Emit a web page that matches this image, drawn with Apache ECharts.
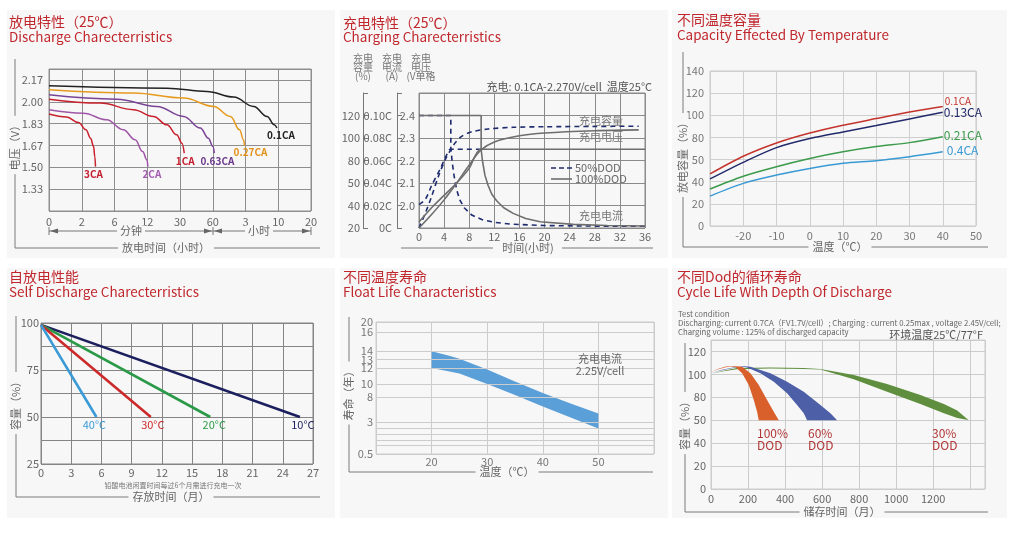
<!DOCTYPE html>
<html><head><meta charset="utf-8">
<script src="https://cdn.jsdelivr.net/npm/echarts@6/dist/echarts.min.js"></script>
<style>
html,body{margin:0;padding:0;background:#fff;}
#wrap{position:relative;width:1020px;height:549px;}
.bg{position:absolute;background:#f7f7f7;}
#c{position:absolute;left:0;top:0;width:1020px;height:549px;}
</style>
</head><body>
<div id="wrap">
<div class="bg" style="left:7px;top:10px;width:328px;height:248px"></div>
<div class="bg" style="left:340px;top:10px;width:328px;height:248px"></div>
<div class="bg" style="left:672px;top:10px;width:335px;height:248px"></div>
<div class="bg" style="left:7px;top:268px;width:328px;height:250px"></div>
<div class="bg" style="left:340px;top:268px;width:328px;height:250px"></div>
<div class="bg" style="left:672px;top:268px;width:335px;height:250px"></div>
<div id="c"></div>
</div>
<script>
const FF = '"Noto Sans CJK SC","Noto Sans",sans-serif';
const RED = '#c0272d';
const BG = '#f7f7f7';

// ---------- Panel 1: discharge ----------
const dischargeTickLabels = ['0','2','6','12','30','60','3','10','20'];
const dischargeVoltLabels = ['1.33','1.50','1.67','1.83','2.00','2.17'];
const dis3CA  = [[0,1.906],[0.54,1.883],[0.9,1.842],[1.13,1.786],[1.27,1.722],[1.36,1.66],[1.4,1.58],[1.42,1.505]];
const dis2CA  = [[0,1.939],[1.05,1.913],[1.76,1.862],[2.27,1.786],[2.63,1.71],[2.86,1.62],[2.99,1.557],[3.02,1.505]];
const dis1CA  = [[0,2.02],[1.56,1.99],[2.58,1.94],[3.19,1.888],[3.6,1.824],[3.9,1.748],[4.06,1.684],[4.13,1.608]];
const dis063CA= [[0,2.053],[2.07,2.02],[3.29,1.964],[4.11,1.888],[4.62,1.8],[4.87,1.722],[5.0,1.66],[5.05,1.608]];
const dis027CA= [[0,2.091],[2.58,2.066],[4.11,2.028],[5.03,1.964],[5.54,1.888],[5.82,1.786],[5.94,1.71],[5.97,1.666]];
const dis01CA = [[0,2.122],[3.6,2.104],[4.82,2.079],[5.64,2.036],[6.25,1.964],[6.66,1.888],[6.88,1.824],[6.96,1.8]];

// ---------- Panel 2: charging ----------
const chgCapLabels  = ['20','40','50','80','100','120'];
const chgCurrLabels = ['0C','0.02C','0.04C','0.06C','0.08C','0.10C'];
const chgVoltLabels = ['2.0','2.1','2.2','2.3','2.4'];
const volt50  = [[0,2.004],[1,2.027],[2,2.088],[3.4,2.164],[4.4,2.225],[5,2.25],[9.9,2.25]];
const cap50   = [[0,20],[1,33],[2,48],[3.1,66],[4.2,81],[5,89],[5.8,96],[6.8,101.5],[8.4,105.5],[11,108],[15,109.5],[20,110],[28,110.3],[35,110.5]];
const curr50  = [[0,0.1],[5.07,0.1],[5.07,0.071],[5.3,0.058],[5.6,0.046],[6,0.034],[6.5,0.025],[7.2,0.018],[8.4,0.0115],[10,0.0075],[12,0.005],[15,0.0033],[20,0.0022],[28,0.0017],[36,0.0015]];
const volt100 = [[0,1.927],[2,1.99],[4,2.045],[6,2.1],[8,2.165],[9.8,2.25],[36,2.25]];
const cap100  = [[0,20],[2,32],[4,45],[6,60],[8,76],[9.8,89],[12,96.5],[16,102],[20,104.5],[28,106.5],[35,107.2]];
const curr100 = [[0,0.1],[9.9,0.1],[9.9,0.07],[10.1,0.06],[10.5,0.047],[11,0.038],[11.6,0.03],[12.4,0.024],[13.5,0.018],[15,0.013],[17,0.0085],[19.3,0.0055],[24.6,0.0032],[30,0.0022],[36,0.0018]];

// ---------- Panel 3: capacity vs temperature ----------
const tempCapLabels = ['0','20','40','50','80','100','120','140'];
const tempX   = [-30,-20,-10,0,10,20,30,40];
const cap01CA = [47,63,75,84,91,97,103,108];
const cap013CA= [42.5,57.5,70.8,79,85,90.7,96.7,102.7];
const cap021CA= [33.4,45,53.6,61,67,71.7,75.3,80.7];
const cap04CA = [27,38.5,46,52,56.6,59,62.6,67];

// ---------- Panel 4: self discharge ----------
const sd40 = [[0,99],[5.5,50]];
const sd30 = [[0,99],[10.9,50]];
const sd20 = [[0,99],[16.8,50]];
const sd10 = [[0,99],[25.7,50]];

// ---------- Panel 5: float life ----------
const floatTicks    = [0.5,3,8,10,12,13,14,16,20];
const floatTickPos  = [0,32,57,70,86,94.3,102.7,122,132];
const floatExtraPos = [26,20,14,9];
const floatTemp  = [20,23,25,30,35,40,45,50];
const floatUpper = [14,13.5,13.1,11.8,10.3,8.6,6.7,4.7];
const floatLower = [12,11.6,11.3,10,8.3,6.1,3.9,2.5];

// ---------- Panel 6: cycle life ----------
const cycCapLabels = {0:'0',20:'20',40:'40',60:'50',80:'80',100:'100',120:'120'};
const dod100Outer = [[0,102],[40,105],[80,106.8],[120,107.3],[168,106.7],[213,100.9],[258,90.7],[303,77.7],[339,67.5],[366,60]];
const dod100Inner = [[0,102],[40,104.5],[80,106.3],[110,106.8],[132,106.5],[168,100.9],[204,90.7],[231,77.7],[249,67.5],[258,60]];
const dod60Outer  = [[0,101],[60,104],[120,106],[180,107],[213,106.7],[321,100.9],[411,93.6],[501,84.9],[591,73.3],[645,66.1],[681,60]];
const dod60Inner  = [[0,101],[60,103.6],[120,105.5],[180,106.4],[195,106.1],[267,100.9],[339,93.6],[411,83.5],[465,73.3],[501,66.1],[519,60]];
const dod30Outer  = [[0,100.5],[60,103],[140,105.5],[320,106],[500,105.5],[591,104.7],[771,99.4],[951,91.6],[1131,82],[1258,74.2],[1330,68.4],[1389,60.5]];
const dod30Inner  = [[0,100.5],[60,102.5],[140,104.5],[320,105.2],[500,104.8],[591,104.2],[771,95.7],[951,84.9],[1131,74.2],[1258,66.1],[1330,62],[1389,60.3]];

// ---------- helpers ----------
function floatMap(v){
  for(let i=0;i<floatTicks.length-1;i++){
    if(v<=floatTicks[i+1]){
      const t=(v-floatTicks[i])/(floatTicks[i+1]-floatTicks[i]);
      return floatTickPos[i]+t*(floatTickPos[i+1]-floatTickPos[i]);
    }
  }
  return floatTickPos[floatTickPos.length-1];
}
const lbl = (extra)=>Object.assign({color:'#666',fontSize:11,fontFamily:FF},extra||{});
function lineS(xi, yi, name, data, color, width, extra){
  return Object.assign({type:'line', name, xAxisIndex:xi, yAxisIndex:yi, data, symbol:'none', showSymbol:false,
    silent:true, animation:false, lineStyle:{color, width}, itemStyle:{color}}, extra||{});
}
function endLbl(name,color,offset,align,vAlign,size,bold){
  return {show:true, formatter:name, color, fontSize:size||11, fontFamily:FF, fontWeight:bold?'bold':'normal',
    align:align, verticalAlign:vAlign, distance:0, offset};
}
function bandSeries(xi, yi, upper, lower, color, mapY){
  const m = mapY || (v=>v);
  return {type:'custom', xAxisIndex:xi, yAxisIndex:yi, silent:true, z:3, animation:false, data:[[0,0]],
    renderItem:(params, api)=>{
      const pts = upper.map(p=>api.coord([p[0], m(p[1])]))
        .concat(lower.slice().reverse().map(p=>api.coord([p[0], m(p[1])])));
      return {type:'polygon', shape:{points:pts}, style:{fill:color}};
    }};
}
function txt(x,y,text,o){
  o=o||{};
  const el={type:'text', x, y, silent:true, z:50, rotation:o.rot||0,
    style:{text, fill:o.color||'#666', fontSize:o.size||11, fontFamily:FF, fontWeight:o.weight||'normal',
      align:o.align||'left', verticalAlign:'middle', textAlign:o.align||'left', textVerticalAlign:'middle'}};
  if(o.bg){ el.style.backgroundColor=o.bg; el.style.padding=o.pad||[0,4]; }
  return el;
}
function ln(x1,y1,x2,y2,color,w,dash){
  return {type:'line', silent:true, z:40, shape:{x1,y1,x2,y2}, style:{stroke:color||'#777', lineWidth:w||1, lineDash:dash||null}};
}
function tri(points,color){ return {type:'polygon', silent:true, z:41, shape:{points}, style:{fill:color||'#666'}}; }

// ---------- grids ----------
const grids = [
  {left:49, top:69, width:262, height:142, show:true, borderColor:'#8e8e8e', borderWidth:1},
  {left:419, top:93, width:226, height:135, show:true, borderColor:'#8a8a8a', borderWidth:1},
  {left:710, top:71, width:266, height:155, show:true, borderColor:'#c8c8c8', borderWidth:1},
  {left:41, top:323, width:272, height:141, show:true, borderColor:'#858585', borderWidth:1},
  {left:376, top:322, width:278, height:132, show:true, borderColor:'#cccccc', borderWidth:1},
  {left:711, top:340, width:274, height:149, show:true, borderColor:'#cccccc', borderWidth:1}
];
const noLine={show:false}, noTick={show:false};
const xAxes = [
  {gridIndex:0, type:'value', min:0, max:8, interval:1, axisLine:noLine, axisTick:noTick,
   splitLine:{lineStyle:{color:'#8e8e8e'}}, axisLabel:lbl({margin:5, formatter:v=>dischargeTickLabels[Math.round(v)]||''})},
  {gridIndex:1, type:'value', min:0, max:36, interval:4, axisLine:noLine, axisTick:noTick,
   splitLine:{lineStyle:{color:'#8a8a8a'}}, axisLabel:lbl({margin:3})},
  {gridIndex:2, type:'value', min:-30, max:50, interval:10, axisLine:noLine, axisTick:noTick,
   splitLine:{lineStyle:{color:'#cfcfcf'}}, axisLabel:lbl({margin:4, color:'#777', formatter:v=>v===-30?'':String(v)})},
  {gridIndex:3, type:'value', min:0, max:27, interval:3, axisLine:noLine, axisTick:noTick,
   splitLine:{lineStyle:{color:'#858585'}}, axisLabel:lbl({margin:3})},
  {gridIndex:4, type:'value', min:10, max:60, interval:10, axisLine:noLine, axisTick:noTick,
   splitLine:{lineStyle:{color:'#cccccc'}}, axisLabel:lbl({margin:2, color:'#777', formatter:v=>(v>10&&v<60)?String(v):''})},
  {gridIndex:5, type:'value', min:0, max:1480, interval:200, axisLine:noLine, axisTick:noTick,
   splitLine:{lineStyle:{color:'#cccccc'}}, axisLabel:lbl({margin:4, formatter:v=>v<=1200?String(v):''})}
];
const yAxes = [
  {gridIndex:0, type:'value', min:7/6, max:2.25, interval:1/6, axisLine:noLine, axisTick:noTick,
   splitLine:{lineStyle:{color:'#8e8e8e'}},
   axisLabel:lbl({margin:6, formatter:v=>{const i=Math.round((v-7/6)*6); return (Math.abs(v-(7/6+i/6))<1e-6&&i>=1&&i<=6)?dischargeVoltLabels[i-1]:'';}})},
  {gridIndex:1, type:'value', min:1.9, max:2.5, interval:0.1, axisLine:noLine, axisTick:noTick,
   splitLine:{lineStyle:{color:'#8a8a8a'}},
   axisLabel:lbl({margin:4, formatter:v=>{const i=Math.round((v-1.9)*10); return (i>=1&&i<=5)?chgVoltLabels[i-1]:'';}})},
  {gridIndex:1, type:'value', min:0, max:0.12, interval:0.02, offset:22, position:'left',
   axisLine:{show:true, lineStyle:{color:'#777'}}, axisTick:{show:true, inside:true, length:5, lineStyle:{color:'#777'}},
   splitLine:{show:false},
   axisLabel:lbl({margin:5, formatter:v=>{const i=Math.round(v/0.02); return (i>=0&&i<=5)?chgCurrLabels[i]:'';}})},
  {gridIndex:1, type:'value', min:20, max:140, interval:20, offset:56, position:'left',
   axisLine:{show:true, lineStyle:{color:'#777'}}, axisTick:{show:true, inside:true, length:5, lineStyle:{color:'#777'}},
   splitLine:{show:false},
   axisLabel:lbl({margin:3, formatter:v=>{const i=Math.round((v-20)/20); return (i>=0&&i<=5)?chgCapLabels[i]:'';}})},
  {gridIndex:2, type:'value', min:0, max:140, interval:20, axisLine:noLine, axisTick:noTick,
   splitLine:{lineStyle:{color:'#cfcfcf'}}, axisLabel:lbl({margin:6, color:'#777', formatter:v=>tempCapLabels[Math.round(v/20)]||''})},
  {gridIndex:3, type:'value', min:25, max:100, interval:12.5, axisLine:noLine, axisTick:noTick,
   splitLine:{lineStyle:{color:'#858585'}}, axisLabel:lbl({margin:2, formatter:v=>(v%25===0)?String(v):''})},
  {gridIndex:4, type:'value', min:0, max:132, axisLine:noLine, axisTick:noTick, splitLine:{show:false},
   axisLabel:{show:false}},
  {gridIndex:5, type:'value', min:0, max:130, interval:20, axisLine:noLine, axisTick:noTick,
   splitLine:{lineStyle:{color:'#cccccc'}}, axisLabel:lbl({margin:5, formatter:v=>cycCapLabels[v]!==undefined?cycCapLabels[v]:''})}
];

// panel 5 gridlines with tick labels (non-uniform scale)
const floatLines = floatTickPos.map((p,i)=>({yAxis:p, label:{show:true, position:'start', distance:3,
    formatter:String(floatTicks[i]), color:'#777', fontSize:11, fontFamily:FF}}))
  .concat(floatExtraPos.map(p=>({yAxis:p, label:{show:false}})));

// ---------- series ----------
const NAVY='#1f2d6e', GRAY='#6e6e6e';
const series = [
  // panel 1
  lineS(0,0,'3CA',dis3CA,'#c8202c',1.5,{smooth:0.4,smoothMonotone:'x',endLabel:endLbl('3CA','#c42030',[-2,3],'center','top',10,true)}),
  lineS(0,0,'2CA',dis2CA,'#a056a8',1.5,{smooth:0.4,smoothMonotone:'x',endLabel:endLbl('2CA','#a35bb0',[4,3],'center','top',10,true)}),
  lineS(0,0,'1CA',dis1CA,'#c8202c',1.5,{smooth:0.4,smoothMonotone:'x',endLabel:endLbl('1CA','#c42030',[1,3],'center','top',10,true)}),
  lineS(0,0,'0.63CA',dis063CA,'#7a4496',1.5,{smooth:0.4,smoothMonotone:'x',endLabel:endLbl('0.63CA','#6c3a8c',[3,3],'center','top',10,true)}),
  lineS(0,0,'0.27CA',dis027CA,'#e69a1e',1.5,{smooth:0.4,smoothMonotone:'x',endLabel:endLbl('0.27CA','#e0921a',[6,2],'center','top',10,true)}),
  lineS(0,0,'0.1CA',dis01CA,'#222222',1.5,{smooth:0.4,smoothMonotone:'x',endLabel:endLbl('0.1CA','#222',[4,2],'center','top',10,true)}),
  // panel 2
  lineS(1,1,'50%DOD',volt50,NAVY,1.6,{smooth:0.3,lineStyle:{color:NAVY,width:1.6,type:[5,4]}}),
  lineS(1,3,'50%DOD',cap50,NAVY,1.6,{smooth:0.3,lineStyle:{color:NAVY,width:1.6,type:[5,4]}}),
  lineS(1,2,'50%DOD',curr50,NAVY,1.6,{lineStyle:{color:NAVY,width:1.6,type:[5,4]}}),
  lineS(1,1,'100%DOD',volt100,GRAY,1.6,{smooth:0.2}),
  lineS(1,3,'100%DOD',cap100,GRAY,1.6,{smooth:0.3}),
  lineS(1,2,'100%DOD',curr100,GRAY,1.6,{}),
  // panel 3
  lineS(2,4,'0.1CA',tempX.map((t,i)=>[t,cap01CA[i]]),'#c4342c',1.5,{smooth:0.3,endLabel:endLbl('0.1CA','#c4342c',[2,-5],'left','middle',10)}),
  lineS(2,4,'0.13CA',tempX.map((t,i)=>[t,cap013CA[i]]),'#232a6b',1.5,{smooth:0.3,endLabel:endLbl('0.13CA','#232a6b',[1,0],'left','middle',12)}),
  lineS(2,4,'0.21CA',tempX.map((t,i)=>[t,cap021CA[i]]),'#3c9b4c',1.5,{smooth:0.3,endLabel:endLbl('0.21CA','#3c9b4c',[1,-1],'left','middle',12)}),
  lineS(2,4,'0.4CA',tempX.map((t,i)=>[t,cap04CA[i]]),'#3a9ad4',1.5,{smooth:0.3,endLabel:endLbl('0.4CA','#3a9ad4',[4,-1],'left','middle',12)}),
  // panel 4
  lineS(3,5,'10°C',sd10,'#1b1f5e',2.6,{endLabel:endLbl('10°C','#1b1f5e',[3,2],'center','top',11)}),
  lineS(3,5,'20°C',sd20,'#2a9a48',2.6,{endLabel:endLbl('20°C','#2a9a48',[4,2],'center','top',11)}),
  lineS(3,5,'30°C',sd30,'#cc2a2a',2.6,{endLabel:endLbl('30°C','#cc2a2a',[2,2],'center','top',11)}),
  lineS(3,5,'40°C',sd40,'#3a9ad6',2.6,{endLabel:endLbl('40°C','#3a9ad6',[-2,2],'center','top',11)}),
  // panel 5 grid lines + band
  lineS(4,6,'grid',[],'#ccc',1,{z:1, markLine:{silent:true, animation:false, symbol:['none','none'],
     lineStyle:{color:'#cccccc',type:'solid',width:1}, data:floatLines}}),
  bandSeries(4,6,floatTemp.map((t,i)=>[t,floatUpper[i]]),floatTemp.map((t,i)=>[t,floatLower[i]]),'#5b9fd9',floatMap),
  // panel 6 bands
  bandSeries(5,7,dod30Outer,dod30Inner,'#5f8f3e'),
  bandSeries(5,7,dod60Outer,dod60Inner,'#4d5fa6'),
  bandSeries(5,7,dod100Outer,dod100Inner,'#d9602b')
];

// ---------- graphics (titles, notes, frames) ----------
const g = [];
function title(x,y1,y2,cn,en){
  g.push(txt(x,y1,cn,{color:RED,size:14}));
  g.push(txt(x,y2,en,{color:RED,size:13.5}));
}
title(9,22,37,'放电特性（25℃）','Discharge Charecterristics');
title(343,23,37,'充电特性（25℃）','Charging Charecterristics');
title(677,20,35,'不同温度容量','Capacity Effected By Temperature');
title(9,277,292,'自放电性能','Self Discharge Charecterristics');
title(343,277,292,'不同温度寿命','Float Life Characteristics');
title(677,277,292,'不同Dod的循环寿命','Cycle Life With Depth Of Discharge');

// frames
const FR='#7a7a7a';
g.push(ln(15,59,15,248,FR), ln(15,248,320,248,FR));
g.push(txt(15,145,'电压（V）',{rot:Math.PI/2,align:'center',bg:BG}));
g.push(txt(166,248,'放电时间（小时）',{align:'center',bg:BG}));
// panel 1 arrow bar
const AY=231;
g.push(ln(49,AY,311,AY,'#777'), ln(49,AY-4,49,AY+4,'#777'), ln(213,AY-4,213,AY+4,'#777'), ln(311,AY-4,311,AY+4,'#777'));
g.push(tri([[50,AY],[58,AY-2.5],[58,AY+2.5]]), tri([[212,AY],[204,AY-2.5],[204,AY+2.5]]),
       tri([[214,AY],[222,AY-2.5],[222,AY+2.5]]), tri([[310,AY],[302,AY-2.5],[302,AY+2.5]]));
g.push(txt(131,AY,'分钟',{align:'center',bg:BG,pad:[0,3]}), txt(259,AY,'小时',{align:'center',bg:BG,pad:[0,3]}));

// panel 2
g.push(ln(401,248,493,248,FR), ln(562,248,653,248,FR), txt(528,248,'时间(小时)',{align:'center'}));
g.push(txt(652,87,'充电: 0.1CA-2.270V/cell  温度25°C',{align:'right',color:'#555'}));
[['充电',58],['容量',67],['(%)',76]].forEach(a=>g.push(txt(363,a[1],a[0],{align:'center',size:10,color:'#777'})));
[['充电',58],['电流',67],['(A)',76]].forEach(a=>g.push(txt(392,a[1],a[0],{align:'center',size:10,color:'#777'})));
[['充电',58],['电压',67],['(V单格',76]].forEach(a=>g.push(txt(421,a[1],a[0],{align:'center',size:10,color:'#777'})));
g.push(txt(601,121,'充电容量',{align:'center',color:'#777'}), txt(601,137,'充电电压',{align:'center',color:'#777'}),
       txt(601,216,'充电电流',{align:'center',color:'#777'}));
g.push(ln(551,168,572,168,NAVY,1.6,[5,3]), txt(575,168,'50%DOD',{color:'#666'}));
g.push(ln(551,179,572,179,GRAY,1.6), txt(575,179,'100%DOD',{color:'#666'}));

// panel 3
g.push(ln(683,52,683,247,FR), ln(683,247,988,247,FR));
g.push(txt(683,155,'放电容量（%）',{rot:Math.PI/2,align:'center',bg:BG}));
g.push(txt(840,247,'温度（℃）',{align:'center',bg:BG}));

// panel 4
g.push(ln(16,316,16,497,FR), ln(16,497,320,497,FR));
g.push(txt(16,403,'容量（%）',{rot:Math.PI/2,align:'center',bg:BG}));
g.push(txt(171,497,'存放时间（月）',{align:'center',bg:BG}));
g.push(txt(173,485,'铅酸电池闲置时间每过6个月需进行充电一次',{align:'center',size:7,color:'#777'}));

// panel 5
g.push(ln(349,317,349,472,FR), ln(349,472,653,472,FR));
g.push(txt(349,393,'寿命（年）',{rot:Math.PI/2,align:'center',bg:BG}));
g.push(txt(507,472,'温度（℃）',{align:'center',bg:BG}));
g.push(txt(600,359,'充电电流',{align:'center',color:'#666'}), txt(600,371,'2.25V/cell',{align:'center',color:'#666'}));

// panel 6
g.push(ln(685,343,685,512,FR), ln(685,512,988,512,FR));
g.push(txt(685,423,'容量（%）',{rot:Math.PI/2,align:'center',bg:BG}));
g.push(txt(842,512,'储存时间（月）',{align:'center',bg:BG}));
g.push(txt(678,314,'Test condition',{size:7.8,color:'#666'}));
g.push(txt(678,323,'Discharging: current 0.7CA（FV1.7V/cell）; Charging : current 0.25max , voltage 2.45V/cell;',{size:7.8,color:'#666'}));
g.push(txt(678,332,'Charging volume : 125% of discharged capacity',{size:7.8,color:'#666'}));
g.push(txt(983,335,'环境温度25℃/77°F',{align:'right',color:'#555'}));
const DODC='#b03636';
[[757,'100%'],[808,'60%'],[932,'30%']].forEach(a=>{
  g.push(txt(a[0],433,a[1],{color:DODC,size:12}), txt(a[0],445,'DOD',{color:DODC,size:12}));
});

const chart = echarts.init(document.getElementById('c'), null, {renderer:'canvas'});
chart.setOption({
  animation:false,
  backgroundColor:'transparent',
  grid:grids, xAxis:xAxes, yAxis:yAxes, series, graphic:{elements:g}
});
</script>
</body></html>
